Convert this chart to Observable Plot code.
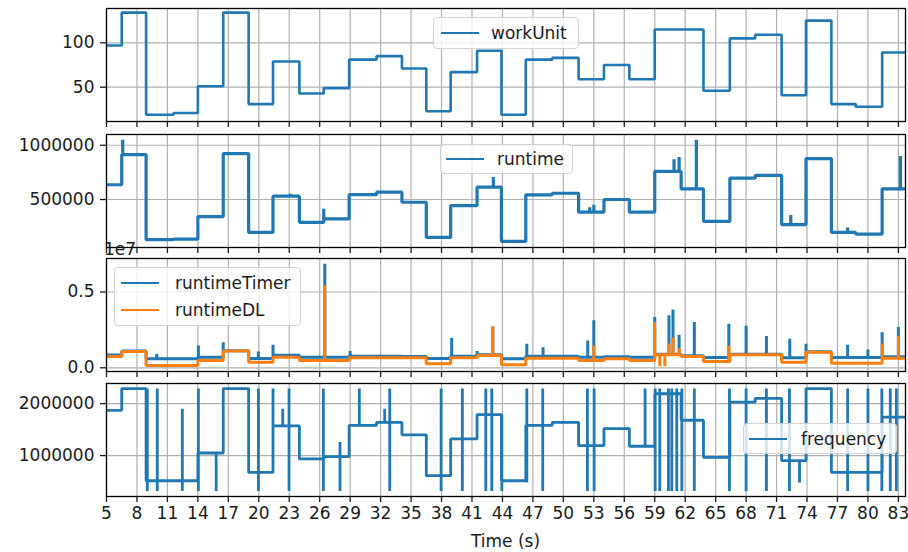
<!DOCTYPE html>
<html>
<head>
<meta charset="utf-8">
<script src="https://cdn.jsdelivr.net/npm/d3@7"></script>
<script src="https://cdn.jsdelivr.net/npm/@observablehq/plot@0.6"></script>
<style>
  body { margin: 0; background: #fff; }
  #chart { position: relative; width: 908px; height: 552px; font-family: "DejaVu Sans", sans-serif; color: #1a1a1a; overflow: hidden; }
  .panel { position: absolute; left: 0; }
  .legend { position: absolute; background: rgba(255,255,255,0.8); border: 1px solid #d3d3d3; border-radius: 4px; box-sizing: border-box; font-size: 17px; }
  .handle { position: absolute; height: 2.4px; }
  .ltext { position: absolute; line-height: 20px; height: 20px; white-space: nowrap; }
  .free { position: absolute; font-size: 17px; white-space: nowrap; line-height: 20px; }
</style>
</head>
<body>
<div id="chart"></div>
<script>
// ---- data ----
const segStart = [5.0, 6.5, 8.9, 11.6, 14.0, 16.5, 19.0, 21.4, 24.0, 26.4, 28.9, 31.6, 34.1, 36.5, 38.9, 41.5, 43.9, 46.3, 48.9, 51.5, 54.0, 56.5, 59.0, 61.6, 63.8, 66.4, 68.9, 71.5, 73.9, 76.4, 78.8, 81.4];
const timeEnd = 83.7;

const workUnit = [97, 134, 19, 21, 51, 134, 31, 79, 43, 49, 81, 85, 71, 23, 67, 91, 19, 81, 83, 59, 75, 59, 115, 115, 46, 105, 109, 41, 125, 31, 28, 89];

const runtime = [636000, 914000, 130000, 135000, 343000, 923000, 197000, 531000, 290000, 321000, 546000, 568000, 475000, 151000, 444000, 614000, 114000, 543000, 558000, 383000, 500000, 383000, 759000, 599000, 299000, 697000, 722000, 269000, 877000, 197000, 182000, 599000];
const runtimeSpikeT = [6.6, 23.1, 26.4, 43.1, 52.6, 53.0, 60.9, 61.4, 63.1, 72.4, 78.0, 83.2];
const runtimeSpikeV = [1050000, 553000, 414000, 707000, 429000, 451000, 870000, 892000, 1050000, 358000, 243000, 901000];

const runtimeTimer = [850000, 1100000, 600000, 600000, 700000, 1120000, 620000, 820000, 700000, 700000, 760000, 760000, 740000, 620000, 760000, 860000, 600000, 760000, 760000, 700000, 720000, 700000, 900000, 800000, 680000, 900000, 900000, 660000, 1050000, 680000, 680000, 720000];
const timerSpikeT = [9.95, 14.05, 16.5, 19.96, 21.4, 26.5, 29.0, 39.0, 41.5, 43.05, 46.4, 48.0, 52.4, 53.0, 59.0, 60.4, 60.8, 61.4, 62.9, 66.3, 68.0, 70.0, 72.3, 73.9, 78.0, 80.0, 81.4, 83.0];
const timerSpikeV = [926000, 1470000, 1690000, 1080000, 1520000, 6870000, 1100000, 1980000, 1100000, 2730000, 1590000, 1360000, 1800000, 3130000, 3350000, 3460000, 3840000, 2180000, 3020000, 2910000, 2780000, 2090000, 1920000, 1590000, 1520000, 1210000, 2350000, 2690000];

const runtimeDL = [747000, 1080000, 152000, 152000, 483000, 1100000, 370000, 700000, 483000, 483000, 661000, 661000, 661000, 265000, 661000, 813000, 198000, 635000, 635000, 483000, 595000, 483000, 860000, 747000, 417000, 860000, 860000, 370000, 1030000, 304000, 304000, 635000];
const dlSpikeT = [26.5, 43.05, 53.0, 59.0, 59.5, 60.0, 60.4, 60.8, 61.4, 66.3, 81.4, 83.0];
const dlSpikeV = [5440000, 2730000, 1470000, 3000000, 100000, 100000, 1600000, 2000000, 1300000, 1470000, 1600000, 2100000];

const frequency = [1870000, 2290000, 516000, 516000, 1050000, 2290000, 677000, 1570000, 936000, 980000, 1580000, 1640000, 1400000, 613000, 1320000, 1790000, 516000, 1580000, 1640000, 1190000, 1520000, 1180000, 2190000, 1680000, 967000, 2030000, 2100000, 903000, 2290000, 677000, 677000, 1740000];
const freqSpikeT  = [9.02, 10.0, 12.47, 14.05, 15.8, 19.96, 21.4, 22.36, 22.98, 26.36, 28.0, 29.9, 32.4, 32.9, 37.96, 40.05, 42.36, 42.95, 43.94, 46.4, 47.97, 52.37, 53.03, 58.05, 59.04, 59.5, 60.35, 60.68, 61.17, 61.67, 62.9, 66.36, 68.0, 70.0, 72.27, 73.26, 78.0, 80.0, 81.37, 82.2, 82.8];
const freqSpikeHi = [2290000, 2290000, 1900000, 2290000, 1050000, 2290000, 2290000, 1900000, 2290000, 2290000, 1260000, 2290000, 1900000, 2290000, 2290000, 2290000, 2290000, 2290000, 1790000, 2290000, 2290000, 2290000, 2290000, 2290000, 2290000, 2290000, 2290000, 2290000, 2290000, 2290000, 2290000, 2290000, 2290000, 2290000, 2290000, 903000, 2290000, 2290000, 2290000, 2290000, 2290000];
const freqSpikeLo = [320000, 320000, 320000, 320000, 320000, 320000, 677000, 1570000, 320000, 320000, 320000, 1580000, 1640000, 320000, 320000, 320000, 320000, 320000, 320000, 484000, 320000, 320000, 320000, 1180000, 320000, 320000, 320000, 320000, 320000, 320000, 320000, 320000, 320000, 320000, 320000, 484000, 320000, 320000, 320000, 320000, 320000];

const xTicks = [5, 8, 11, 14, 17, 20, 23, 26, 29, 32, 35, 38, 41, 44, 47, 50, 53, 56, 59, 62, 65, 68, 71, 74, 77, 80, 83];

// ---- build step-line tables from the arrays ----
function buildSeries(values, spikeT, spikeA, spikeB) {
  const pts = [];
  for (let i = 0; i < segStart.length; i++) {
    const s = segStart[i], e = i + 1 < segStart.length ? segStart[i + 1] : timeEnd, v = values[i];
    pts.push({t: s, v});
    if (spikeT) {
      spikeT.forEach((t, k) => {
        if (t >= s && t < e) {
          pts.push({t, v});
          pts.push({t, v: spikeA[k]});
          if (spikeB) pts.push({t, v: spikeB[k]});
          pts.push({t, v});
        }
      });
    }
    pts.push({t: e, v});
  }
  pts.sort((a, b) => a.t - b.t);
  return pts;
}

const blue = "#1f77b4", orange = "#ff7f0e";
const chart = document.getElementById("chart");

function panel({top, ydomain, yticks, yfmt, series, last}) {
  const mt = 8, ph = 113, mb = last ? 40 : 10;
  const svg = Plot.plot({
    width: 908, height: mt + ph + mb,
    marginTop: mt, marginBottom: mb, marginLeft: 106, marginRight: 3,
    style: {fontFamily: "DejaVu Sans", fontSize: "17px", color: "#1a1a1a", background: "transparent", overflow: "visible"},
    x: {domain: [5, timeEnd], label: null},
    y: {domain: ydomain, label: null},
    marks: [
      Plot.gridX(xTicks, {stroke: "#b0b0b0", strokeOpacity: 1, strokeWidth: 1.2}),
      Plot.gridY(yticks, {stroke: "#b0b0b0", strokeOpacity: 1, strokeWidth: 1.2}),
      ...series.map(s => Plot.line(s.data, {x: "t", y: "v", stroke: s.color, strokeWidth: s.w, clip: true, strokeLinejoin: "miter"})),
      Plot.frame({stroke: "#000", strokeWidth: 1.3}),
      Plot.axisX({ticks: xTicks, tickSize: 6, tickPadding: 4, strokeWidth: 1.3, label: null,
                  tickFormat: last ? (d => String(d)) : (() => "")}),
      Plot.axisY({ticks: yticks, tickSize: 6, tickPadding: 6, strokeWidth: 1.3, label: null, tickFormat: yfmt})
    ]
  });
  svg.classList.add("panel");
  svg.style.top = (top - mt) + "px";
  chart.appendChild(svg);
}

panel({top: 8, ydomain: [11.4, 138.6], yticks: [50, 100], yfmt: d => String(d),
  series: [{data: buildSeries(workUnit), color: blue, w: 2.6}]});
panel({top: 134, ydomain: [58000, 1099000], yticks: [500000, 1000000], yfmt: d => String(d),
  series: [{data: buildSeries(runtime, runtimeSpikeT, runtimeSpikeV), color: blue, w: 3.2}]});
panel({top: 258, ydomain: [-245000, 7210000], yticks: [0, 5000000], yfmt: d => (d / 1e7).toFixed(1),
  series: [{data: buildSeries(runtimeTimer, timerSpikeT, timerSpikeV), color: blue, w: 3},
           {data: buildSeries(runtimeDL, dlSpikeT, dlSpikeV), color: orange, w: 3}]});
panel({top: 383, ydomain: [213000, 2387000], yticks: [1000000, 2000000], yfmt: d => String(d), last: true,
  series: [{data: buildSeries(frequency, freqSpikeT, freqSpikeHi, freqSpikeLo), color: blue, w: 2.8}]});

// ---- legends, offset text, x label ----
function legend(left, top, w, h, items) {
  const box = document.createElement("div");
  box.className = "legend";
  Object.assign(box.style, {left: left + "px", top: top + "px", width: w + "px", height: h + "px"});
  items.forEach(it => {
    const hd = document.createElement("div");
    hd.className = "handle";
    Object.assign(hd.style, {left: it.hx + "px", top: (it.y - 1.2) + "px", width: "38px", background: it.color});
    const tx = document.createElement("div");
    tx.className = "ltext";
    Object.assign(tx.style, {left: it.tx + "px", top: (it.y - 10) + "px"});
    tx.textContent = it.label;
    box.appendChild(hd); box.appendChild(tx);
  });
  chart.appendChild(box);
}
legend(433, 17, 146, 32, [{label: "workUnit", color: blue, hx: 7, tx: 57, y: 15}]);
legend(440, 144, 133, 30, [{label: "runtime", color: blue, hx: 5, tx: 56, y: 14}]);
legend(114, 267, 187, 59, [{label: "runtimeTimer", color: blue, hx: 6, tx: 60, y: 15},
                           {label: "runtimeDL", color: orange, hx: 6, tx: 60, y: 42}]);
legend(743, 423, 154, 31, [{label: "frequency", color: blue, hx: 5, tx: 57, y: 15}]);

function freeText(txt, left, top, center) {
  const d = document.createElement("div");
  d.className = "free";
  d.textContent = txt;
  d.style.left = left + "px"; d.style.top = top + "px";
  if (center) d.style.transform = "translateX(-50%)";
  chart.appendChild(d);
}
freeText("1e7", 104, 239);
freeText("Time (s)", 505.5, 531, true);
</script>
</body>
</html>
